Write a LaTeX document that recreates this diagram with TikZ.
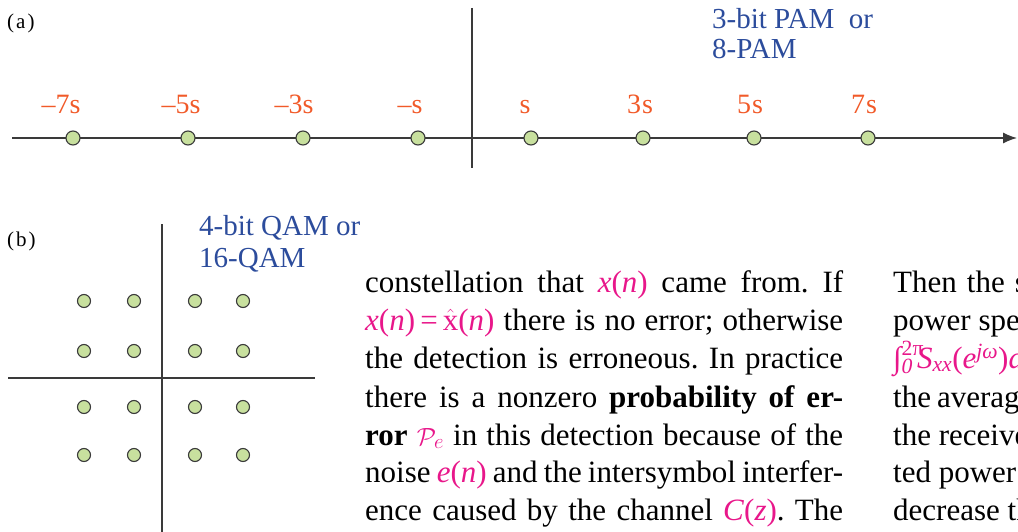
\documentclass[tikz,border=0pt]{standalone}
\usepackage{fontspec}
\setmainfont{Liberation Serif}
\usetikzlibrary{arrows.meta}
\definecolor{dotgreen}{HTML}{C8E09E}
\definecolor{lblorange}{HTML}{F15A29}
\definecolor{capblue}{HTML}{2C4C9C}
\definecolor{mathpink}{HTML}{E8178A}
\definecolor{axisgray}{HTML}{3A3A3A}
\newcommand{\pk}[1]{\textcolor{mathpink}{#1}}
\newcommand{\itx}[1]{\textit{#1}}
\frenchspacing
\begin{document}
\begin{tikzpicture}[x=1pt, y=-1pt,
  dot/.style={circle, draw=axisgray, line width=1.1pt, fill=dotgreen,
              minimum size=14pt, inner sep=0pt},
  qdot/.style={dot, minimum size=13pt},
  axis/.style={draw=axisgray, line width=1.2pt},
  lvl/.style={text=lblorange, font=\fontsize{28}{30}\selectfont, anchor=base},
  captext/.style={text=capblue, font=\fontsize{29}{31}\selectfont, anchor=base west,
                  inner sep=0pt},
  tag/.style={font=\fontsize{21}{22}\selectfont, anchor=base west, inner sep=0pt},
  body/.style={font=\fontsize{31}{38.5}\selectfont, anchor=base west, inner sep=0pt}
]
  \useasboundingbox (0,0) rectangle (1018,532);
  \clip (0,0) rectangle (1018,532);

  % (a) 8-PAM
  \node[tag] (taga) at (7,29) {(\kern2pt a\kern2pt)};
  \coordinate (ha) at (12,138);
  \coordinate (hb) at (1017,138);
  \coordinate (va) at (472,8);
  \coordinate (vb) at (472,168);
  \draw[axis, -{Latex[length=14pt, width=11pt]}] (ha) -- (hb);
  \draw[axis] (va) -- (vb);

  \node[dot] (p1) at (73,138) {};
  \node[dot] (p2) at (188,138) {};
  \node[dot] (p3) at (303,138) {};
  \node[dot] (p4) at (418,138) {};
  \node[dot] (p5) at (531,138) {};
  \node[dot] (p6) at (643,138) {};
  \node[dot] (p7) at (754,138) {};
  \node[dot] (p8) at (868,138) {};

  \node[lvl] (l1) at (61,114) {–7s};
  \node[lvl] (l2) at (181,114) {–5s};
  \node[lvl] (l3) at (294,114) {–3s};
  \node[lvl] (l4) at (410,114) {–s};
  \node[lvl] (l5) at (525,114) {s};
  \node[lvl] (l6) at (640,114) {3\kern1pt s};
  \node[lvl] (l7) at (750,114) {5\kern1pt s};
  \node[lvl] (l8) at (864,114) {7\kern1pt s};

  \node[captext] (pam1) at (712,29) {3-bit PAM\ \ or};
  \node[captext] (pam2) at (712,59) {8-PAM};

  % (b) 16-QAM
  \node[tag] (tagb) at (7,246) {(\kern2pt b\kern2pt)};
  \coordinate (qha) at (8,378);
  \coordinate (qhb) at (315,378);
  \coordinate (qva) at (162,224);
  \coordinate (qvb) at (162,532);
  \draw[axis] (qha) -- (qhb);
  \draw[axis] (qva) -- (qvb);

  \node[qdot] (q11) at (84,301) {};
  \node[qdot] (q12) at (134,301) {};
  \node[qdot] (q13) at (195,301) {};
  \node[qdot] (q14) at (243,301) {};
  \node[qdot] (q21) at (84,351) {};
  \node[qdot] (q22) at (134,351) {};
  \node[qdot] (q23) at (195,351) {};
  \node[qdot] (q24) at (243,351) {};
  \node[qdot] (q31) at (84,407) {};
  \node[qdot] (q32) at (134,407) {};
  \node[qdot] (q33) at (195,407) {};
  \node[qdot] (q34) at (243,407) {};
  \node[qdot] (q41) at (84,455) {};
  \node[qdot] (q42) at (134,455) {};
  \node[qdot] (q43) at (195,455) {};
  \node[qdot] (q44) at (243,455) {};

  \node[captext] (qam1) at (199,236) {4-bit QAM or};
  \node[captext] (qam2) at (199,267) {16-QAM};

  % Text column
  \node[body] (ta1) at (365,292) {\makebox[478pt][s]{constellation that \pk{\itx{x}(\itx{n})} came from. If}};
  \node[body] (ta2) at (365,330) {\makebox[478pt][s]{\pk{\itx{x}(\itx{n})\,=\,$\hat{\mbox{x}}$(\itx{n})} there is no error; otherwise}};
  \node[body] (ta3) at (365,368) {\makebox[478pt][s]{the detection is erroneous. In practice}};
  \node[body] (ta4) at (365,407) {\makebox[478pt][s]{there is a nonzero \textbf{probability of er-}}};
  \node[body] (ta5) at (365,445) {\makebox[478pt][s]{\textbf{ror} \pk{$\mathcal{P}_e$} in this detection because of the}};
  \node[body] (ta6) at (365,482) {\makebox[478pt][s]{noise \pk{\itx{e}(\itx{n})} and the intersymbol interfer-}};
  \node[body] (ta7) at (365,520) {\makebox[478pt][s]{ence caused by the channel \pk{\itx{C}(\itx{z})}. The}};

  \node[body] (tb1) at (893,292) {Then\hspace{10pt}the\hspace{10pt}signal};
  \node[body] (tb2) at (893,330) {power\hspace{8pt}spectral};
  \node[body] (tb3) at (893,368) {\pk{∫\rlap{\raisebox{3pt}{\textsuperscript{2π}}}\textsubscript{\itx{0}}\kern4pt\itx{S}\textsubscript{\itx{xx}}(\itx{e}\textsuperscript{\itx{jω}})\itx{dω}}};
  \node[body] (tb4) at (893,407) {the\hspace{6pt}average};
  \node[body] (tb5) at (893,445) {the receiver};
  \node[body] (tb6) at (893,482) {ted power};
  \node[body] (tb7) at (893,520) {decrease the};
\end{tikzpicture}
\end{document}
